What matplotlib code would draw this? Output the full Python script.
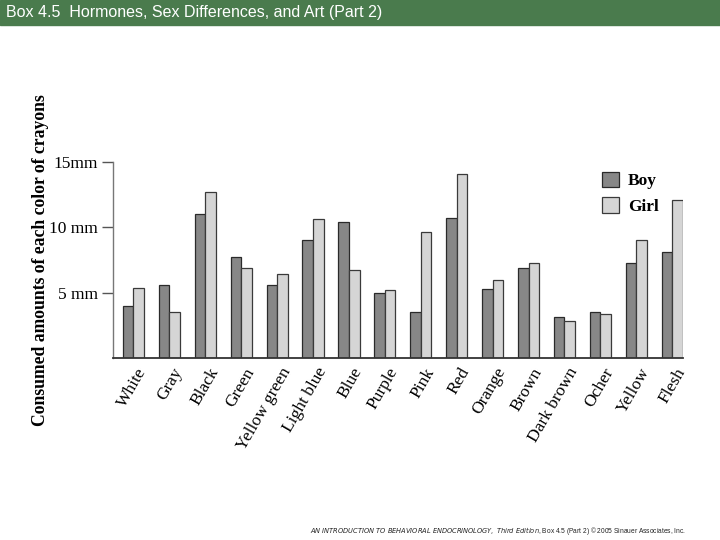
import matplotlib
matplotlib.use("Agg")
from matplotlib import pyplot as plt
from matplotlib.patches import Rectangle
import numpy as np

# crayon colours and consumed amounts (mm)
colors = ["White", "Gray", "Black", "Green", "Yellow green", "Light blue", "Blue", "Purple",
          "Pink", "Red", "Orange", "Brown", "Dark brown", "Ocher", "Yellow", "Flesh"]
boy = [4.0, 5.55, 11.05, 7.7, 5.55, 9.05, 10.4, 4.95,
       3.5, 10.75, 5.25, 6.9, 3.15, 3.55, 7.25, 8.1]
girl = [5.35, 3.55, 12.7, 6.9, 6.4, 10.65, 6.75, 5.2,
        9.65, 14.1, 5.95, 7.3, 2.8, 3.35, 9.05, 12.1]
ytick_vals = [5, 10, 15]
ytick_labels = ["5 mm", "10 mm", "15mm"]

serif = ["Liberation Serif", "DejaVu Serif"]


def main():
    fig = plt.figure(figsize=(7.2, 5.4), dpi=100)

    # green header strip
    fig.patches.append(Rectangle((0, 1 - 25 / 540), 1, 25 / 540, transform=fig.transFigure,
                                 color="#4a7b4d", zorder=0))
    fig.text(6 / 720, 1 - 13 / 540, "Box 4.5  Hormones, Sex Differences, and Art (Part 2)",
             color="white", fontsize=11.5, family="Liberation Sans", va="center", ha="left")

    ax = fig.add_axes([113 / 720, 1 - 358 / 540, 570 / 720, 196 / 540])
    x = np.arange(len(colors))
    w = 0.295
    ax.bar(x - w / 2, boy, w, color="#878787", edgecolor="#2a2a2a", linewidth=0.9, label="Boy")
    ax.bar(x + w / 2, girl, w, color="#d5d5d5", edgecolor="#3a3a3a", linewidth=0.9, label="Girl")

    ax.set_xlim(-0.57, len(colors) - 1 + 0.3)
    ax.set_ylim(0, 15)
    for s in ["top", "right"]:
        ax.spines[s].set_visible(False)
    ax.spines["left"].set_color("#777777")
    ax.spines["left"].set_linewidth(1.0)
    ax.spines["bottom"].set_color("#333333")
    ax.spines["bottom"].set_linewidth(1.3)

    ax.set_yticks(ytick_vals)
    ax.set_yticklabels(ytick_labels, family=serif, fontsize=12.5)
    ax.tick_params(axis="y", length=8, width=1, color="#555555", pad=3)
    ax.set_xticks(x + 0.08)
    ax.set_xticklabels(colors, rotation=60, ha="right", va="top", rotation_mode="anchor",
                       family=serif, fontsize=12.5)
    ax.tick_params(axis="x", length=0, pad=5)

    ax.set_ylabel("Consumed amounts of each color of crayons", family=serif, fontsize=12.7,
                  fontweight="bold")
    ax.yaxis.set_label_coords(-0.112, 0.5)

    ax.legend(loc="upper left", bbox_to_anchor=(0.83, 1.03), frameon=False,
              prop={"family": serif, "size": 12.5, "weight": "bold"},
              handlelength=1.0, handleheight=1.0, handletextpad=0.5, labelspacing=0.45)

    fig.text(0.952, 1 - 531 / 540,
             r"$\bf\it{AN\ INTRODUCTION\ TO\ BEHAVIORAL\ ENDOCRINOLOGY,}$ $\it{Third\ Edition}$, "
             r"Box 4.5 (Part 2) © 2005 Sinauer Associates, Inc.",
             fontsize=4.8, family="Liberation Sans", ha="right", va="center", color="#222222")

    fig.savefig("out.png", dpi=100)


if __name__ == "__main__":
    main()
